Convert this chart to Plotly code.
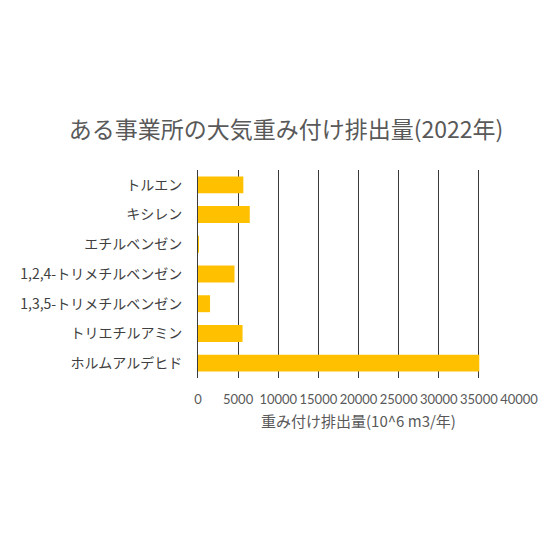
import plotly.graph_objects as go

substances = ['トルエン', 'キシレン', 'エチルベンゼン', '1,2,4-トリメチルベンゼン',
              '1,3,5-トリメチルベンゼン', 'トリエチルアミン', 'ホルムアルデヒド']
weighted_emission = [5650, 6450, 100, 4550, 1500, 5550, 35050]
x_ticks = [0, 5000, 10000, 15000, 20000, 25000, 30000, 35000, 40000]

jp_font = 'Noto Sans CJK JP'
gray = '#595959'

fig = go.Figure(go.Bar(
    x=weighted_emission,
    y=substances,
    orientation='h',
    marker=dict(color='#FFC000', line=dict(width=0)),
))

# page body has an 8px margin, so the plot area is shifted to compensate
fig.update_layout(
    width=560, height=560,
    margin=dict(l=186, r=49, t=162, b=190),
    paper_bgcolor='white', plot_bgcolor='white',
    bargap=0.43,
    showlegend=False,
    title=dict(text='ある事業所の大気重み付け排出量(2022年)',
               font=dict(family=jp_font, size=23, color=gray),
               x=278 / 560, xanchor='center', y=1 - 122 / 560, yanchor='middle'),
    font=dict(family=jp_font, color=gray, size=12),
)

fig.update_xaxes(
    range=[0, 40000], tickvals=x_ticks, ticktext=[str(v) for v in x_ticks],
    tickangle=0,
    showgrid=True, gridcolor='#3a3a3a', gridwidth=1,
    zeroline=False, showline=False,
    ticklabelstandoff=12,
    tickfont=dict(family='Lato', size=13, color=gray),
    title=dict(text='重み付け排出量(10^6 m3/年)', font=dict(family=jp_font, size=15, color=gray),
               standoff=10),
)
fig.update_yaxes(
    autorange='reversed', showline=True, linecolor='#3a3a3a', linewidth=1,
    showgrid=False, ticklabelstandoff=12,
    tickfont=dict(family=jp_font, size=14, color='#404040'),
)

fig.write_html('out.html')
